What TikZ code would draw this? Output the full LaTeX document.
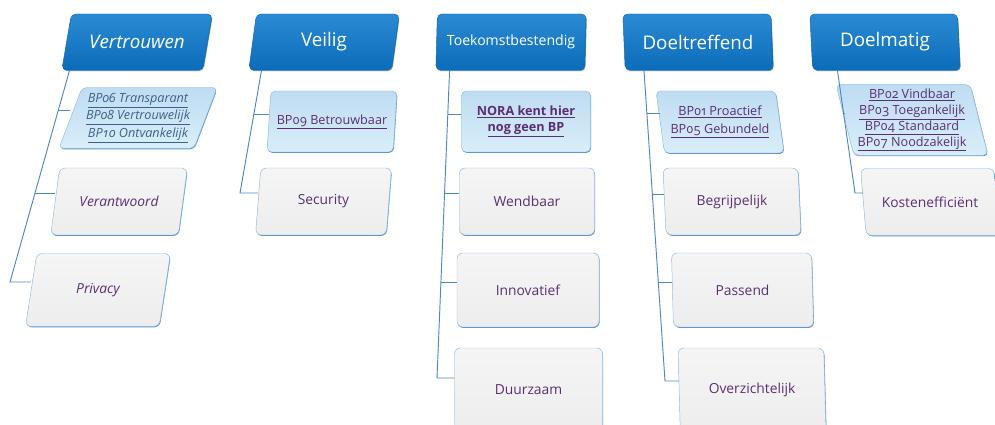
\documentclass[tikz,border=0pt]{standalone}
\usepackage{fontspec}
\setmainfont{Open Sans}
\newfontfamily\bpfont[Numbers=OldStyle]{Open Sans}
\usetikzlibrary{positioning,shapes.geometric,shadows,calc}
\definecolor{hdrTop}{HTML}{2B8AD4}
\definecolor{hdrBot}{HTML}{0B6CB8}
\definecolor{hdrLine}{HTML}{1565A8}
\definecolor{bpTop}{HTML}{BFDCF2}
\definecolor{bpBot}{HTML}{D8EEF9}
\definecolor{boxTop}{HTML}{F5F5F6}
\definecolor{boxBot}{HTML}{EDEDEE}
\definecolor{boxLine}{HTML}{8CBCE3}
\definecolor{shadeBlue}{HTML}{2E78BE}
\definecolor{lineBlue}{HTML}{4C88C0}
\definecolor{txtPurple}{HTML}{5B2E74}
\definecolor{txtSlate}{HTML}{3E6189}
\newcommand{\bplink}[1]{\underline{#1}}

\begin{document}
\begin{tikzpicture}[x=0.3mm, y=-0.3mm, node distance=5.61cm,
	sl/.style 2 args={trapezium left angle=#1, trapezium right angle=#2},
	hdr/.style={trapezium, trapezium stretches body, draw=hdrLine, top color=hdrTop, bottom color=hdrBot, rounded corners=4pt, minimum width=45.1mm, minimum height=16.8mm, text=white, font=\fontsize{16}{19}\selectfont, drop shadow={shadow xshift=.6pt, shadow yshift=-1pt, fill=hdrLine, opacity=.7}},
	bpbox/.style={trapezium, trapezium stretches body, draw=boxLine, top color=bpTop, bottom color=bpBot, rounded corners=4pt, minimum height=18.3mm, align=center, text=txtPurple, font=\bpfont\fontsize{10.8}{15}\selectfont, drop shadow={shadow xshift=.5pt, shadow yshift=-.8pt, fill=shadeBlue, opacity=.8}},
	itembox/.style={trapezium, trapezium stretches body, draw=boxLine, top color=boxTop, bottom color=boxBot, rounded corners=5pt, minimum height=20.1mm, align=center, text=txtPurple, font=\fontsize{11.8}{14}\selectfont, drop shadow={shadow xshift=.5pt, shadow yshift=-.8pt, fill=shadeBlue, opacity=.8}},
	conn/.style={draw=lineBlue, line width=.8pt}]
	\useasboundingbox (0,0) rectangle (995,425);

	% koppen
	\node[hdr, sl={66}{114}, font=\fontsize{16}{19}\selectfont\itshape] (h1) at (137,42) {Vertrouwen};
	\node[hdr, sl={74}{106}, right of=h1] (h2) {Veilig};
	\node[hdr, sl={86}{94}, right of=h2, font=\fontsize{12}{14}\selectfont] (h3) {Toekomstbestendig};
	\node[hdr, sl={96}{84}, right of=h3] (h4) {Doeltreffend};
	\node[hdr, sl={96}{84}, right of=h4] (h5) {Doelmatig};

	% BP-blokken
	\node[bpbox, sl={68}{112}, minimum width=38.4mm, text=txtSlate, font=\bpfont\fontsize{10.8}{15}\selectfont\itshape] (b1) at (138,118) {\bplink{BP06 Transparant}\\ \bplink{BP08 Vertrouwelijk}\\ \bplink{BP10 Ontvankelijk}};
	\node[bpbox, sl={80}{100}, minimum width=39mm] (b2) at (332,121.5) {\bplink{BP09 Betrouwbaar}};
	\node[bpbox, sl={90}{90}, minimum width=38.7mm, font=\bpfont\fontsize{10.8}{14}\selectfont\bfseries] (b3) at (526,121.5) {\bplink{NORA kent hier}\\ \bplink{nog geen BP}};
	\node[bpbox, sl={102}{78}, minimum width=38.4mm, minimum height=18.6mm] (b4) at (720,122) {\bplink{BP01 Proactief}\\ \bplink{BP05 Gebundeld}};
	\node[bpbox, sl={104}{76}, minimum width=39.9mm, font=\bpfont\fontsize{10.8}{13.6}\selectfont] (b5) at (912,120) {\bplink{BP02 Vindbaar}\\ \bplink{BP03 Toegankelijk}\\ \bplink{BP04 Standaard}\\ \bplink{BP07 Noodzakelijk}};

	% kenmerken
	\node[itembox, sl={64}{116}, minimum width=41mm, font=\fontsize{11.8}{14}\selectfont\itshape] (g11) at (119,201.5) {Verantwoord};
	\node[itembox, sl={62}{118}, minimum width=43.5mm, minimum height=21.9mm, font=\fontsize{11.8}{14}\selectfont\itshape] (g12) at (98,290) {Privacy};
	\node[itembox, sl={76}{104}, minimum width=40.8mm] (g21) at (323.5,201.5) {Security};
	\node[itembox, sl={90}{90}, minimum width=40.5mm] (g31) at (527,201.5) {Wendbaar};
	\node[itembox, sl={90}{90}, minimum width=42.6mm, minimum height=22.2mm] (g32) at (528,290) {Innovatief};
	\node[itembox, sl={90}{90}, minimum width=44.4mm, minimum height=25.2mm] (g33) at (528.5,390) {Duurzaam};
	\node[itembox, sl={98}{82}, minimum width=41.4mm] (g41) at (732,201.5) {Begrijpelijk};
	\node[itembox, sl={96}{84}, minimum width=42.6mm, minimum height=22.2mm] (g42) at (742.5,290) {Passend};
	\node[itembox, sl={96}{84}, minimum width=44.4mm, minimum height=25.2mm] (g43) at (752,390) {Overzichtelijk};
	\node[itembox, sl={107}{73}, minimum width=41.7mm] (g51) at (930,202) {Kostenefficiënt};

	% stammen
	\coordinate (t1) at ($(h1.bottom left corner)+(8,0)$);
	\coordinate (e1) at (10,282);
	\coordinate (t2) at ($(h2.bottom left corner)+(13,0)$);
	\coordinate (e2) at (240,193);
	\coordinate (t3) at ($(h3.bottom left corner)+(14,0)$);
	\coordinate (e3) at (437,378);
	\coordinate (t4) at ($(h4.bottom left corner)+(19,0)$);
	\coordinate (e4) at (665,381);
	\coordinate (t5) at ($(h5.bottom left corner)+(25,0)$);
	\coordinate (e5) at (855,193);

	\coordinate (k11) at ($(t1)!.19!(e1)$);
	\coordinate (k12) at ($(t1)!.58!(e1)$);
	\coordinate (k21) at ($(t2)!.36!(e2)$);
	\coordinate (k31) at ($(t3)!.143!(e3)$);
	\coordinate (k32) at ($(t3)!.40!(e3)$);
	\coordinate (k33) at ($(t3)!.688!(e3)$);
	\coordinate (k41) at ($(t4)!.138!(e4)$);
	\coordinate (k42) at ($(t4)!.399!(e4)$);
	\coordinate (k43) at ($(t4)!.682!(e4)$);
	\coordinate (k51) at ($(t5)!.35!(e5)$);

	\draw[conn] (t1) -- (e1) -- (e1 -| g12.west);
	\draw[conn] (k11) -- (k11 -| b1.west);
	\draw[conn] (k12) -- (k12 -| g11.west);
	\draw[conn] (t2) -- (e2) -- (e2 -| g21.west);
	\draw[conn] (k21) -- (k21 -| b2.west);
	\draw[conn] (t3) -- (e3) -- (e3 -| g33.west);
	\draw[conn] (k31) -- (k31 -| b3.west);
	\draw[conn] (k32) -- (k32 -| g31.west);
	\draw[conn] (k33) -- (k33 -| g32.west);
	\draw[conn] (t4) -- (e4) -- (e4 -| g43.west);
	\draw[conn] (k41) -- (k41 -| b4.west);
	\draw[conn] (k42) -- (k42 -| g41.west);
	\draw[conn] (k43) -- (k43 -| g42.west);
	\draw[conn] (t5) -- (e5) -- (e5 -| g51.west);
	\draw[conn] (k51) -- (k51 -| b5.west);
\end{tikzpicture}
\end{document}
